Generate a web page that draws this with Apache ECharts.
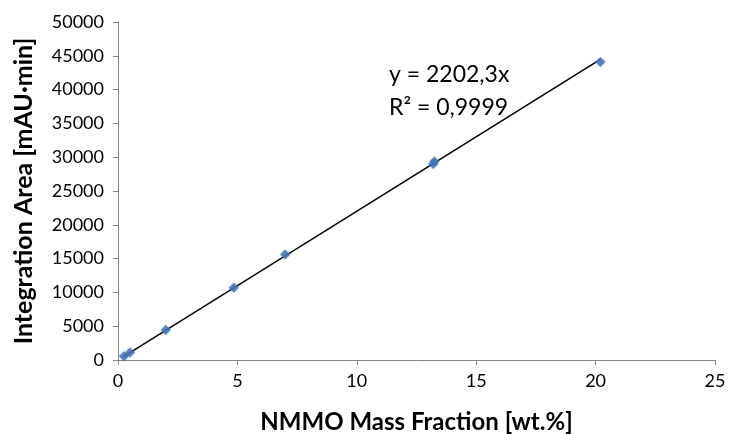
<!DOCTYPE html>
<html>
<head>
<meta charset="utf-8">
<script src="https://cdn.jsdelivr.net/npm/echarts@6/dist/echarts.min.js"></script>
<style>
  html, body { margin: 0; padding: 0; background: #fff; }
  #chart { width: 733px; height: 434px; }
</style>
</head>
<body>
<div id="chart"></div>
<script>
// Calibration samples: NMMO mass fraction (wt.%) vs. integrated peak area (mAU·min)
const massFraction = [0.25, 0.5, 2.0, 4.85, 7.0, 13.2, 13.25, 20.2];
const integrationArea = [560, 1120, 4450, 10700, 15600, 29000, 29350, 44100];

// Linear fit through the origin
const slope = 2202.3;
const rSquared = '0,9999';
const equationLabel = 'y = 2202,3x';

const xTicks = { min: 0, max: 25, interval: 5 };
const yTicks = { min: 0, max: 50000, interval: 5000 };

const points = massFraction.map((x, i) => [x, integrationArea[i]]);
const xLo = Math.min(...massFraction);
const xHi = Math.max(...massFraction);
const fitLine = [[xLo, slope * xLo], [xHi, slope * xHi]];

const FONT = 'Lato, "Open Sans", sans-serif';
const axisGrey = '#868686';

const chart = echarts.init(document.getElementById('chart'), null, { renderer: 'canvas' });
chart.setOption({
  animation: false,
  backgroundColor: '#ffffff',
  grid: { left: 118, right: 18, top: 22, bottom: 74, containLabel: false, outerBoundsMode: 'none' },
  xAxis: {
    type: 'value',
    min: xTicks.min, max: xTicks.max, interval: xTicks.interval,
    name: 'NMMO Mass Fraction [wt.%]',
    nameLocation: 'middle',
    nameGap: 50,
    nameTextStyle: { fontFamily: FONT, fontSize: 24, fontWeight: 'bold', color: '#000' },
    axisLine: { show: true, onZero: false, lineStyle: { color: axisGrey, width: 1 } },
    axisTick: { show: true, inside: false, length: 5, lineStyle: { color: axisGrey } },
    axisLabel: { fontFamily: FONT, fontSize: 18, color: '#000', margin: 12 },
    splitLine: { show: false }
  },
  yAxis: {
    type: 'value',
    min: yTicks.min, max: yTicks.max, interval: yTicks.interval,
    name: 'Integration Area [mAU·min]',
    nameLocation: 'middle',
    nameGap: 82,
    nameRotate: 90,
    nameTextStyle: { fontFamily: FONT, fontSize: 25, fontWeight: 'bold', color: '#000' },
    axisLine: { show: true, lineStyle: { color: axisGrey, width: 1 } },
    axisTick: { show: true, inside: false, length: 5, lineStyle: { color: axisGrey } },
    axisLabel: { fontFamily: FONT, fontSize: 18, color: '#000', margin: 14, formatter: v => String(v) },
    splitLine: { show: false }
  },
  series: [
    {
      type: 'line',
      data: fitLine,
      symbol: 'none',
      lineStyle: { color: '#000', width: 1.5 },
      silent: true,
      z: 2
    },
    {
      type: 'scatter',
      data: points,
      symbol: 'diamond',
      symbolSize: 10,
      itemStyle: { color: '#3f74b5', shadowBlur: 2, shadowColor: 'rgba(63,116,181,0.6)' },
      z: 3
    }
  ],
  graphic: [
    {
      type: 'text', left: 389, top: 63,
      style: { text: equationLabel, fontFamily: FONT, fontSize: 23, fill: '#000' }
    },
    {
      type: 'text', left: 389, top: 96,
      style: { text: 'R² = ' + rSquared, fontFamily: FONT, fontSize: 23, fill: '#000' }
    }
  ]
});
</script>
</body>
</html>
